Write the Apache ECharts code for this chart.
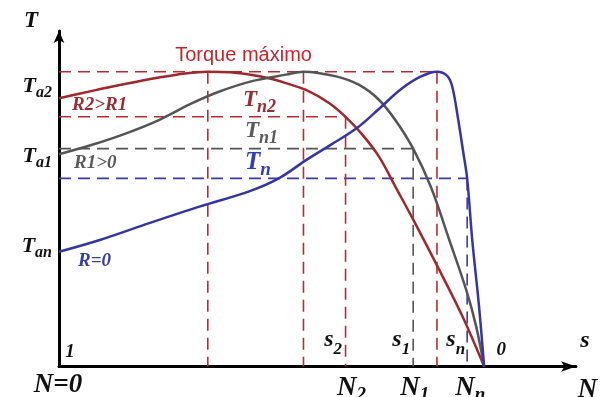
<!DOCTYPE html>
<html>
<head>
<meta charset="utf-8">
<script src="https://cdn.jsdelivr.net/npm/echarts@6/dist/echarts.min.js"></script>
<style>
  html, body { margin: 0; padding: 0; background: #ffffff; }
  #chart { width: 600px; height: 397px; }
</style>
</head>
<body>
<div id="chart"></div>
<script>
// Torque–speed characteristics of an induction motor for three rotor resistances.
// Speed axis: 0 = standstill (s = 1), 100 = synchronous speed (s = 0).
// Torque axis: 100 = maximum (breakdown) torque.

const speedR2  = [0, 7.8, 15.8, 23.5, 29.6, 35.0, 40.2, 45.4, 49.6, 53.4, 58.1, 63.5, 67.4, 71.2, 75.3, 79.3, 83.1, 88.9, 94.8, 100];
const torqueR2 = [91.0, 93.5, 95.9, 98.0, 99.4, 100, 99.8, 98.9, 97.7, 96.1, 93.8, 89.4, 84.7, 78.9, 71.1, 60.5, 50.4, 34.3, 17.3, 0];

const speedR1  = [0, 7.8, 15.8, 23.5, 31.3, 37.6, 45.4, 53.4, 57.5, 65.2, 70.6, 75.3, 79.3, 83.3, 87.5, 91.8, 95.8, 98.1, 100];
const torqueR1 = [72.0, 75.2, 79.1, 83.6, 89.3, 93.2, 96.8, 99.0, 100, 98.4, 95.5, 90.4, 83.2, 73.9, 60.8, 42.9, 25.9, 13.7, 0];

const speedR0  = [0, 9.6, 21.4, 33.2, 44.9, 51.8, 58.1, 63.8, 69.9, 75.5, 80.2, 84.9, 88.9, 91.3, 92.5, 93.9, 95.1, 96.0, 97.2, 98.8, 100];
const torqueR0 = [38.9, 42.9, 48.7, 54.3, 59.5, 63.9, 70.0, 75.1, 80.7, 87.7, 93.8, 98.2, 100, 98.6, 94.9, 83.7, 72.5, 63.8, 42.9, 20.3, 0];

// rated operating points (speed, torque)
const ratedSpeed  = { n2: 67.4, n1: 83.3, nn: 96.0 };
const ratedTorque = { n2: 84.7, n1: 73.9, nn: 63.8 };
// speeds of maximum torque, and maximum torque
const maxTorqueSpeed = [35.0, 57.5, 88.9];
const maxTorque = 100;
// starting torques
const startTorque = { a2: 91.0, a1: 72.0, an: 38.9 };
const syncSpeed = 100;
const xMax = 121.6, yMax = 113.8;

const RED = '#a0282c', RED_DASH = '#c0282f', RED_TEXT = '#9c2b33';
const GRAY = '#555555', GRAY_TEXT = '#5a5a5a';
const BLUE = '#3535a8', BLUE_DASH = '#3a3aa8', BLUE_TEXT = '#3b3ba6', BLUE_TN = '#2f3fb8';
const SERIF = '"Liberation Serif", "Times New Roman", serif';
const SANS = '"Liberation Sans", Arial, sans-serif';

const pairs = (xs, ys) => xs.map((x, i) => [x, ys[i]]);

function curve(name, xs, ys, color) {
  return {
    name, type: 'line', data: pairs(xs, ys), showSymbol: false, smooth: 0.35,
    z: 5, silent: true,
    lineStyle: { color, width: 2.5 }
  };
}
function guide(from, to, color) {
  return {
    type: 'line', data: [from, to], showSymbol: false, z: 3, silent: true,
    lineStyle: { color, width: 1.6, type: [12, 7] }
  };
}

const guides = [
  guide([0, maxTorque], [maxTorqueSpeed[2], maxTorque], RED_DASH),
  guide([0, ratedTorque.n2], [ratedSpeed.n2, ratedTorque.n2], RED_DASH),
  guide([0, ratedTorque.n1], [ratedSpeed.n1, ratedTorque.n1], GRAY),
  guide([0, ratedTorque.nn], [ratedSpeed.nn, ratedTorque.nn], BLUE_DASH),
  guide([maxTorqueSpeed[0], maxTorque], [maxTorqueSpeed[0], 0], RED_DASH),
  guide([maxTorqueSpeed[1], maxTorque], [maxTorqueSpeed[1], 0], RED_DASH),
  guide([maxTorqueSpeed[2], maxTorque], [maxTorqueSpeed[2], 0], RED_DASH),
  guide([ratedSpeed.n2, ratedTorque.n2], [ratedSpeed.n2, 0], RED_DASH),
  guide([ratedSpeed.n1, ratedTorque.n1], [ratedSpeed.n1, 0], GRAY),
  guide([ratedSpeed.nn, ratedTorque.nn], [ratedSpeed.nn, 0], BLUE_DASH)
];

function axisStyle(max, arrow) {
  return {
    type: 'value', min: 0, max,
    axisLine: { show: true, onZero: false, symbol: ['none', 'arrow'], symbolSize: arrow,
                lineStyle: { color: '#000', width: 3 } },
    axisTick: { show: false }, axisLabel: { show: false }, splitLine: { show: false }
  };
}

const chart = echarts.init(document.getElementById('chart'), null, { renderer: 'canvas' });
chart.setOption({
  animation: false,
  backgroundColor: '#ffffff',
  grid: { left: 59, right: 24, top: 31, bottom: 30.5, containLabel: false, outerBoundsMode: 'none' },
  xAxis: axisStyle(xMax, [8, 15]),
  yAxis: axisStyle(yMax, [8, 12]),
  series: [
    ...guides,
    curve('R2>R1', speedR2, torqueR2, RED),
    curve('R1>0', speedR1, torqueR1, GRAY),
    curve('R=0', speedR0, torqueR0, BLUE)
  ]
});

// ---- annotations -------------------------------------------------------
const measureCtx = document.createElement('canvas').getContext('2d');
function fontSpec(size, weight, style, family) {
  return { fontSize: size, fontWeight: weight, fontStyle: style, fontFamily: family };
}
function textWidth(str, spec) {
  measureCtx.font = spec.fontStyle + ' ' + spec.fontWeight + ' ' + spec.fontSize + 'px ' + spec.fontFamily;
  return measureCtx.measureText(str).width;
}
// symbol with a lowered subscript: d = drop of the subscript's centre line
function sym(main, sub, F, f, d, color) {
  return { main, sub, F, f, d, color };
}
function plain(str, size, color, family, weight, style) {
  return { main: str, F: size, color, family: family || SERIF, weight: weight || 'bold', style: style || 'italic' };
}

const labels = [
  { t: plain('T', 23, '#111'), at: [0, yMax], dx: -28, dy: -9.5, align: 'center' },
  { t: sym('T', 'a2', 22, 16, 6.5, '#111'), at: [0, startTorque.a2], dx: -7, dy: -11.8, align: 'right' },
  { t: sym('T', 'a1', 22, 16, 6.5, '#111'), at: [0, startTorque.a1], dx: -7, dy: 2.2, align: 'right' },
  { t: sym('T', 'an', 22, 16, 6.5, '#111'), at: [0, startTorque.an], dx: -7, dy: -5.8, align: 'right' },
  { t: plain('R2>R1', 19, RED_TEXT), at: [0, startTorque.a2], dx: 13, dy: 6.7, align: 'left' },
  { t: plain('R1>0', 19, GRAY_TEXT), at: [0, startTorque.a1], dx: 15, dy: 9.2, align: 'left' },
  { t: plain('R=0', 19, BLUE_TEXT), at: [0, startTorque.an], dx: 19, dy: 9.7, align: 'left' },
  { t: plain('Torque máximo', 20, '#cc2229', SANS, 'normal', 'normal'), at: [maxTorqueSpeed[0], maxTorque], dx: 35.75, dy: -16.7, align: 'center' },
  { t: sym('T', 'n2', 23, 18, 6.7, RED_TEXT), at: [0, ratedTorque.n2], dx: 184, dy: -16.3, align: 'left' },
  { t: sym('T', 'n1', 23, 18, 6.7, GRAY_TEXT), at: [0, ratedTorque.n1], dx: 186, dy: -17.1, align: 'left' },
  { t: sym('T', 'n', 25, 19, 8, BLUE_TN), at: [0, ratedTorque.nn], dx: 186, dy: -15.9, align: 'left' },
  { t: plain('1', 19, '#111'), at: [0, 0], dx: 11, dy: -14.5, align: 'center' },
  { t: plain('N=0', 27, '#111'), at: [0, 0], dx: -1, dy: 18.5, align: 'center' },
  { t: sym('s', '2', 24, 17, 10, '#111'), at: [ratedSpeed.n2, 0], dx: -3.5, dy: -26.6, align: 'right' },
  { t: sym('s', '1', 24, 17, 10, '#111'), at: [ratedSpeed.n1, 0], dx: -3, dy: -26.6, align: 'right' },
  { t: sym('s', 'n', 24, 17, 10, '#111'), at: [ratedSpeed.nn, 0], dx: -2, dy: -26.6, align: 'right' },
  { t: plain('0', 19, '#111'), at: [syncSpeed, 0], dx: 17, dy: -16.5, align: 'center' },
  { t: plain('s', 24, '#111'), at: [xMax, 0], dx: 9, dy: -25.5, align: 'center' },
  { t: sym('N', '2', 27, 19, 6.7, '#111'), at: [ratedSpeed.n2, 0], dx: -8.5, dy: 21.5, align: 'left' },
  { t: sym('N', '1', 27, 19, 6.7, '#111'), at: [ratedSpeed.n1, 0], dx: -13, dy: 21.5, align: 'left' },
  { t: sym('N', 'n', 27, 19, 6.7, '#111'), at: [ratedSpeed.nn, 0], dx: -12, dy: 21.5, align: 'left' },
  { t: plain('N', 27, '#111'), at: [xMax, 0], dx: 11.5, dy: 23.5, align: 'center' }
];

function textEl(str, spec, color, x, y, align) {
  return {
    type: 'text', silent: true, z: 10, x, y,
    style: Object.assign({ text: str, fill: color, align, verticalAlign: 'middle' }, spec)
  };
}

const graphic = [];
labels.forEach(function (l) {
  const p = chart.convertToPixel({ xAxisIndex: 0, yAxisIndex: 0 }, l.at);
  const x0 = p[0] + l.dx, y0 = p[1] + l.dy;
  const t = l.t;
  if (t.sub === undefined) {
    graphic.push(textEl(t.main, fontSpec(t.F, t.weight, t.style, t.family), t.color, x0, y0, l.align));
    return;
  }
  const mSpec = fontSpec(t.F, 'bold', 'italic', SERIF);
  const sSpec = fontSpec(t.f, 'bold', 'italic', SERIF);
  const wm = textWidth(t.main, mSpec), ws = textWidth(t.sub, sSpec);
  const left = l.align === 'right' ? x0 - wm - ws : (l.align === 'center' ? x0 - (wm + ws) / 2 : x0);
  graphic.push(textEl(t.main, mSpec, t.color, left, y0, 'left'));
  graphic.push(textEl(t.sub, sSpec, t.color, left + wm, y0 + t.d, 'left'));
});
chart.setOption({ graphic });
</script>
</body>
</html>
